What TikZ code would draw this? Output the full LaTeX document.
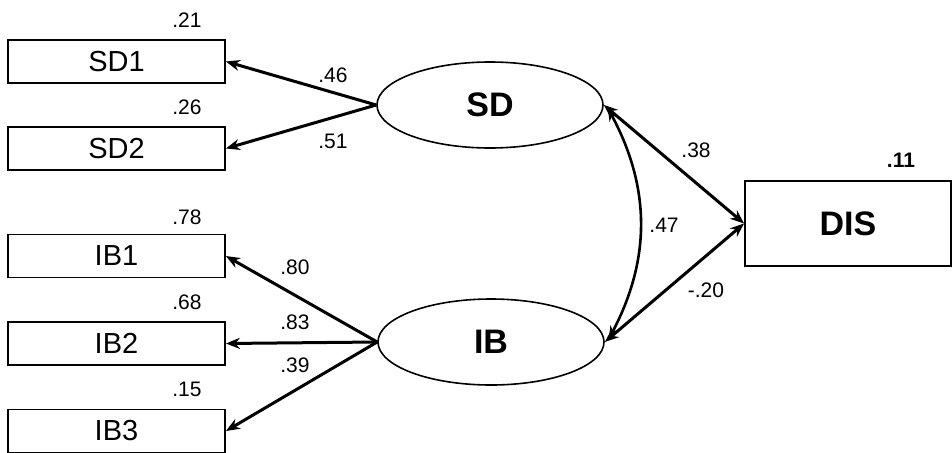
\documentclass[tikz,border=0pt]{standalone}
\usepackage{fontspec}
\setmainfont{Liberation Sans}
\usetikzlibrary{arrows.meta,shapes.geometric}
\begin{document}
\begin{tikzpicture}[x=1pt,y=-1pt,
  obs/.style={draw,line width=1.8pt,rectangle,minimum width=217pt,minimum height=43pt,inner sep=0pt,font=\fontsize{29}{31}\selectfont},
  lat/.style={draw,line width=1.6pt,ellipse,minimum width=226pt,minimum height=86pt,inner sep=0pt,font=\fontsize{34}{36}\selectfont\bfseries},
  coef/.style={font=\fontsize{21}{23}\selectfont,inner sep=0pt},
  path/.style={line width=3pt,-{Stealth[length=14pt,width=11pt]}},
  dpath/.style={line width=3pt,{Stealth[length=14pt,width=11pt]}-{Stealth[length=14pt,width=11pt]}}
]
\useasboundingbox (0,0) rectangle (952,452);
% observed indicators
\node[obs] (SD1) at (116.5,61.5) {SD1};
\node[obs] (SD2) at (116.5,148.5) {SD2};
\node[obs] (IB1) at (116.5,256) {IB1};
\node[obs] (IB2) at (116.5,343.5) {IB2};
\node[obs] (IB3) at (116.5,431) {IB3};
% latent variables
\node[lat] (SD) at (490,105) {SD};
\node[lat] (IB) at (491,342) {IB};
% outcome
\node[draw,line width=1.8pt,rectangle,minimum width=206pt,minimum height=85pt,inner sep=0pt,font=\fontsize{34}{36}\selectfont\bfseries] (DIS) at (848,223.5) {DIS};
% R-squared labels
\node[coef] (r1) at (187,20) {.21};
\node[coef] (r2) at (187,107) {.26};
\node[coef] (r3) at (187,217) {.78};
\node[coef] (r4) at (187,302) {.68};
\node[coef] (r5) at (187,389) {.15};
\node[coef,font=\fontsize{21}{23}\selectfont\bfseries] (r6) at (901,160) {.11};
% loadings
\draw[path] (SD.west) -- (SD1.east);
\draw[path] (SD.west) -- (SD2.east);
\draw[path] (IB.west) -- (IB1.east);
\draw[path] (IB.west) -- (IB2.east);
\draw[path] (IB.west) -- (IB3.east);
\node[coef] (l1) at (333,75) {.46};
\node[coef] (l2) at (333,141) {.51};
\node[coef] (l3) at (295,267) {.80};
\node[coef] (l4) at (295,322) {.83};
\node[coef] (l5) at (295,365) {.39};
% structural paths
\draw[dpath] (SD.east) -- (DIS.west);
\draw[dpath] (IB.east) -- (DIS.west);
\draw[line width=2.6pt,{Stealth[length=13pt,width=10pt]}-{Stealth[length=13pt,width=10pt]}] ([xshift=4pt,yshift=-3pt]SD.east) to[bend left=28] ([xshift=4pt,yshift=3pt]IB.east);
\node[coef] (p1) at (696,150) {.38};
\node[coef] (p2) at (664,225) {.47};
\node[coef] (p3) at (706,290) {-.20};
\end{tikzpicture}
\end{document}
